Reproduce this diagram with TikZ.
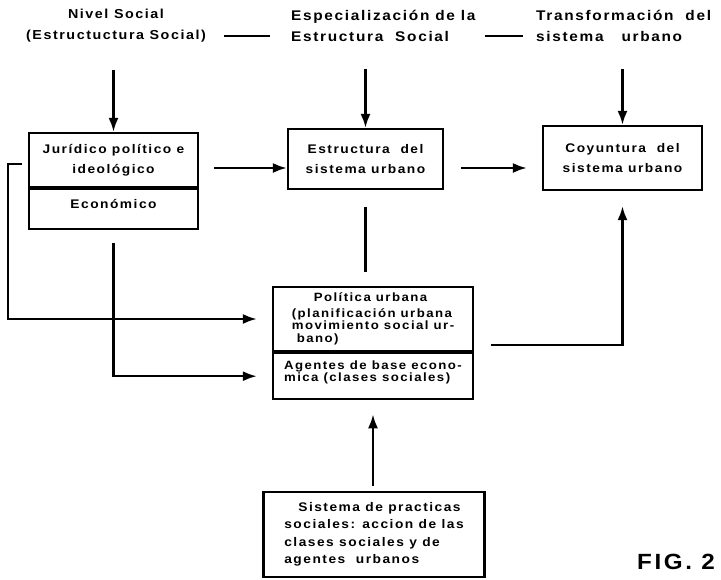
\documentclass[tikz,border=0pt]{standalone}
\usepackage{fontspec}
\usetikzlibrary{arrows.meta, positioning, calc}
\newfontfamily\lettering[LetterSpace=12, FakeStretch=1.1]{Liberation Sans}
\tikzset{
    heading/.style={rectangle, inner sep=1pt, align=center, font=\lettering\bfseries\fontsize{13}{21}\selectfont},
    wide/.style={font=\lettering\bfseries\fontsize{14}{21}\selectfont},
    block/.style={rectangle, draw, line width=2.2pt, inner sep=3pt, align=center, font=\lettering\bfseries\fontsize{12.5}{20}\selectfont},
    tight/.style={font=\lettering\bfseries\fontsize{12}{12.5}\selectfont},
    link/.style={draw, line width=2.4pt},
    flow/.style={draw, -{Latex[length=14pt, width=10pt]}, line width=2.4pt}
}

\begin{document}
\begin{tikzpicture}[x=1pt, y=-1pt]
        \useasboundingbox (0,0) rectangle (721,579);

        \node [heading] (nivel) at (116,26) {Nivel Social\\(Estructuctura Social)};
        \node [heading, wide, align=left, anchor=west] (espec) at (290,26) {Especialización de la\\Estructura\ \ Social};
        \node [heading, wide, align=left, anchor=west] (transf) at (535,26) {Transformación\ \ del\\sistema\ \ \ urbano};

        \node [block, minimum width=169pt, minimum height=54pt] (jur) at (113.5,160) {Jurídico político e\\ideológico};
        \node [block, minimum width=169pt, minimum height=40pt, below=0pt of jur] (eco) {Económico\\[-10pt]\mbox{}};

        \node [block, minimum width=155pt, minimum height=60pt] (est) at (365.5,159) {Estructura\ \ del\\sistema urbano};
        \node [block, minimum width=159pt, minimum height=64pt] (coy) at (622.5,158) {Coyuntura\ \ del\\sistema urbano};

        \node [block, tight, align=left, minimum width=200pt, minimum height=64pt] (pol) at (373,319) {\hspace*{22pt}Política urbana\\[3pt](planificación urbana\\movimiento social ur-\\\ bano)};
        \node [block, tight, align=left, minimum width=200pt, minimum height=46pt, below=0pt of pol] (agb) {Agentes de base econo-\\mica (clases sociales)\\[-2pt]\mbox{}};

        \node [block, align=left, inner sep=2pt, minimum width=221pt, minimum height=85pt, font=\lettering\bfseries\fontsize{12.5}{17.5}\selectfont] (sis) at (374,534.5) {\hspace*{14pt}Sistema de practicas\\sociales: accion de las\\clases sociales y de\\agentes\ \ urbanos};

        \node [heading, font=\lettering\bfseries\fontsize{22}{26}\selectfont] (fig) at (676,562) {FIG. 2};

        % Draws
        \draw [link, shorten <=17pt, shorten >=20pt] ([yshift=-10pt]nivel.east) -- ([yshift=-10pt]espec.west);
        \draw [link, shorten <=8pt, shorten >=12pt] ([yshift=-10pt]espec.east) -- ([yshift=-10pt]transf.west);

        \draw [flow, shorten <=26pt] (nivel.south -| jur.north) -- (jur.north);
        \draw [flow, shorten <=26pt] (espec.south -| est.north) -- (est.north);
        \draw [flow, shorten <=26pt] (transf.south -| coy.north) -- (coy.north);

        \draw [flow, shorten <=15pt] ([yshift=-8pt]jur.east) -- ([yshift=-9pt]est.west);
        \draw [flow, shorten <=17pt, shorten >=15pt] ([yshift=-9pt]est.east) -- ([yshift=-10pt]coy.west);

        \coordinate (loopcorner) at (8,164);
        \draw [flow, shorten >=15pt] ($(jur.west |- loopcorner)+(-6,0)$) -- (loopcorner) |- (pol.west);
        \draw [flow, shorten <=13pt, shorten >=15pt] (eco.south) |- (agb.west);

        \draw [link, shorten <=17pt, shorten >=14pt] (est.south) -- (est.south |- pol.north);
        \draw [flow, shorten <=17pt, shorten >=15pt] ([yshift=-26pt]pol.east) -| (coy.south);
        \draw [flow, shorten <=5pt, shorten >=14pt] (sis.north -| agb.south) -- (agb.south);

    \end{tikzpicture}
\end{document}
